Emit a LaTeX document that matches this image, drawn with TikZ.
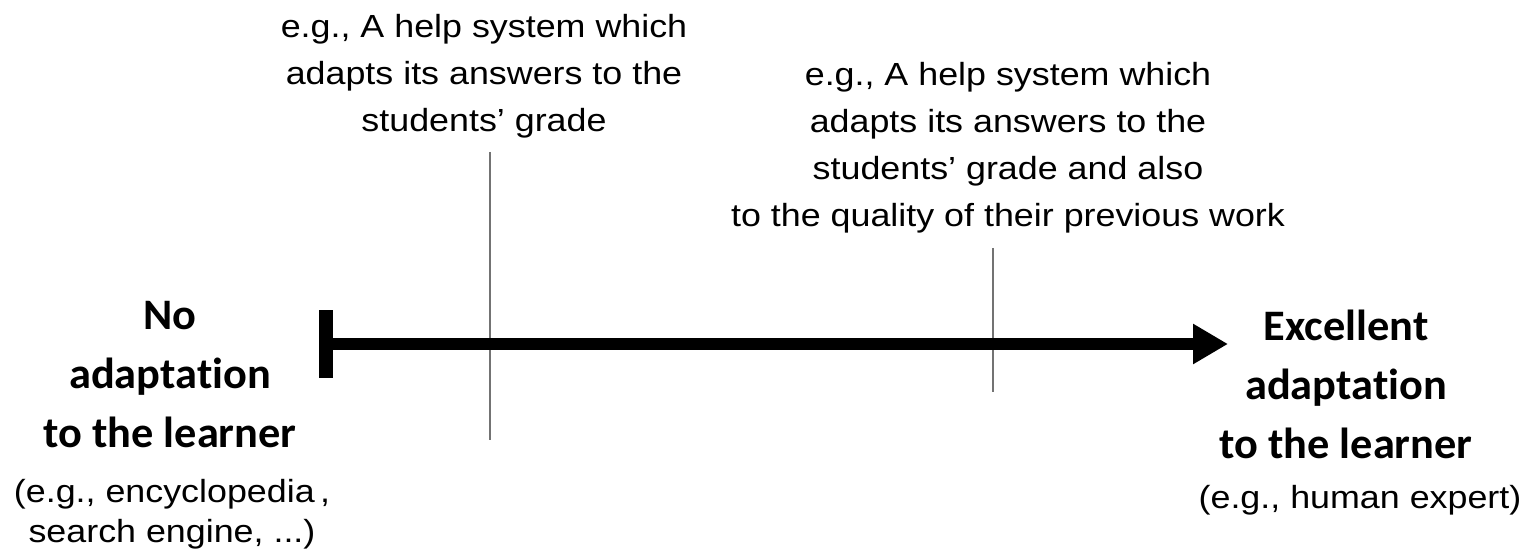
\documentclass[tikz,border=0pt]{standalone}
\usepackage{fontspec}
\usetikzlibrary{arrows.meta}
\setmainfont{Liberation Sans}
\newfontfamily\regfam[FakeStretch=1.12]{Liberation Sans}
\newfontfamily\boldfam[FakeStretch=1.02,Ligatures={NoCommon}]{Carlito Bold}
\begin{document}
\begin{tikzpicture}[x=1pt,y=-1pt,
  regtxt/.style={font=\regfam\fontsize{32}{47.3}\selectfont, align=center, inner sep=0pt, anchor=base},
  regtxtb/.style={font=\regfam\fontsize{32}{40}\selectfont, align=center, inner sep=0pt, anchor=base},
  boldtxt/.style={font=\boldfam\fontsize{43.5}{59}\selectfont, align=center, inner sep=0pt, anchor=base},
  tick/.style={draw=black!55, line width=1.6pt},
  axis/.style={line width=12pt, -{Triangle[length=35pt 0 0, width=38pt 0 0]}}
]
\useasboundingbox (0,0) rectangle (1529,553);
% text blocks
\node[regtxt] (ex1) at (484,132) {e.g., A help system which\\adapts its answers to the\\students’ grade};
\node[regtxt] (ex2) at (1008,227) {e.g., A help system which\\adapts its answers to the\\students’ grade and also\\to the quality of their previous work};
\node[boldtxt] (left) at (170,447) {No\\adaptation\\to the learner};
\node[regtxtb] (leftex) at (172,542) {(e.g., encyclopedia\,,\\search engine, ...)};
\node[boldtxt] (right) at (1346,458) {Excellent\\adaptation\\to the learner};
\node[regtxtb] (rightex) at (1360,508) {(e.g., human expert)};
% ticks
\coordinate (t1a) at (490,152);
\coordinate (t1b) at (490,440);
\coordinate (t2a) at (993,248);
\coordinate (t2b) at (993,392);
\draw[tick] (t1a) -- (t1b);
\draw[tick] (t2a) -- (t2b);
% axis
\node[fill=black, inner sep=0pt, minimum width=14pt, minimum height=68pt] (bar) at (326,344) {};
\coordinate (tip) at (1228,344);
\draw[axis] (bar.center) -- (tip);
\end{tikzpicture}
\end{document}
